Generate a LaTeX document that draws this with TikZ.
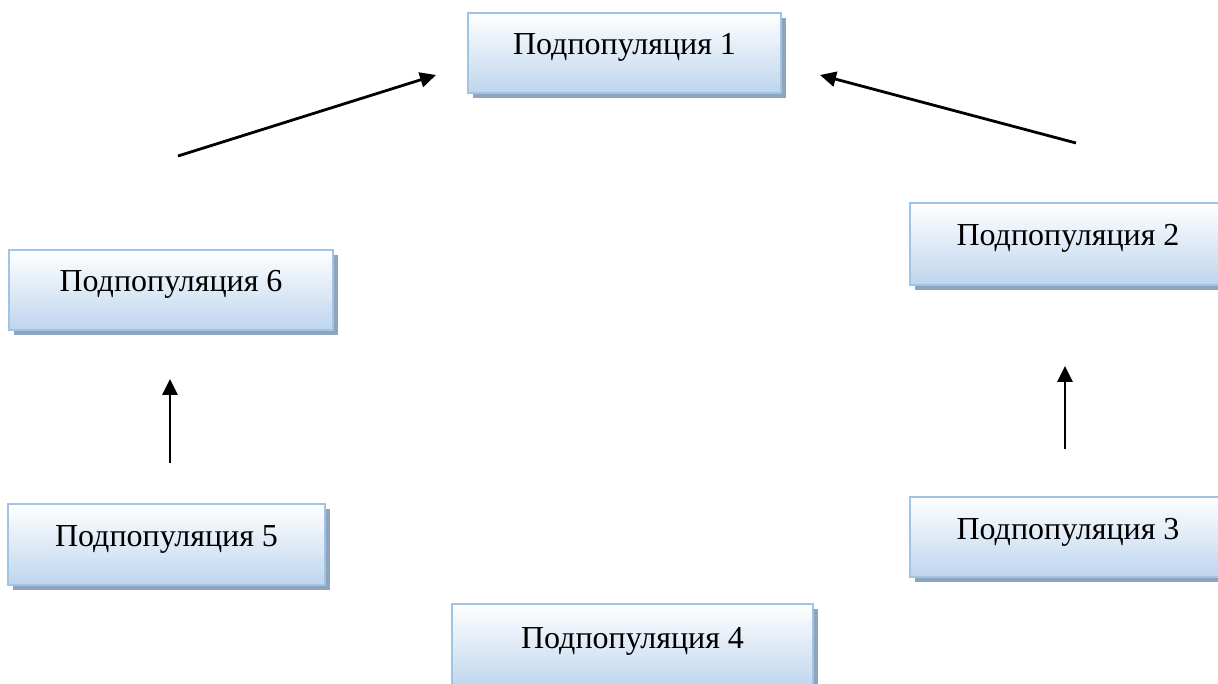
\documentclass[tikz,border=0pt]{standalone}
\usepackage{fontspec}
\setmainfont{Liberation Serif}
\usetikzlibrary{arrows.meta,shadows}
\definecolor{boxedge}{RGB}{160,196,230}
\definecolor{boxbot}{RGB}{190,213,238}
\definecolor{boxshadow}{RGB}{143,165,190}
\tikzset{
  popbox/.style={draw=boxedge, line width=1.6pt, rectangle,
    top color=white, bottom color=boxbot,
    general shadow={fill=boxshadow, shadow xshift=5pt, shadow yshift=-5pt},
    font=\fontsize{32}{36}\selectfont,
    text height=20pt, text depth=16pt, inner sep=0pt},
  flow/.style={line width=2.8pt, -{Triangle[length=16pt,width=15pt]}}
}
\begin{document}
\begin{tikzpicture}[x=1pt,y=-1pt]
\useasboundingbox (0,0) rectangle (1218,684);
\begin{scope}
\clip (0,0) rectangle (1218,684);
\node[popbox, minimum width=313pt, minimum height=80pt] (p1) at (624.5,53) {Подпопуляция 1};
\node[popbox, minimum width=316pt, minimum height=82pt] (p2) at (1068,244) {Подпопуляция 2};
\node[popbox, minimum width=316pt, minimum height=80pt] (p3) at (1068,537) {Подпопуляция 3};
\node[popbox, minimum width=361pt, minimum height=84pt] (p4) at (632.5,646) {Подпопуляция 4};
\node[popbox, minimum width=317pt, minimum height=81pt] (p5) at (166.5,544.5) {Подпопуляция 5};
\node[popbox, minimum width=324pt, minimum height=80pt] (p6) at (171,290) {Подпопуляция 6};
\end{scope}
\coordinate (a1s) at (178,156);
\coordinate (a1e) at (436,75);
\coordinate (a2s) at (1076,143);
\coordinate (a2e) at (820,75);
\coordinate (a3s) at (1065,449);
\coordinate (a3e) at (1065,366);
\coordinate (a4s) at (170,463);
\coordinate (a4e) at (170,379);
\draw[flow] (a1s) -- (a1e);
\draw[flow] (a2s) -- (a2e);
\draw[flow] (a3s) -- (a3e);
\draw[flow] (a4s) -- (a4e);
\end{tikzpicture}
\end{document}
